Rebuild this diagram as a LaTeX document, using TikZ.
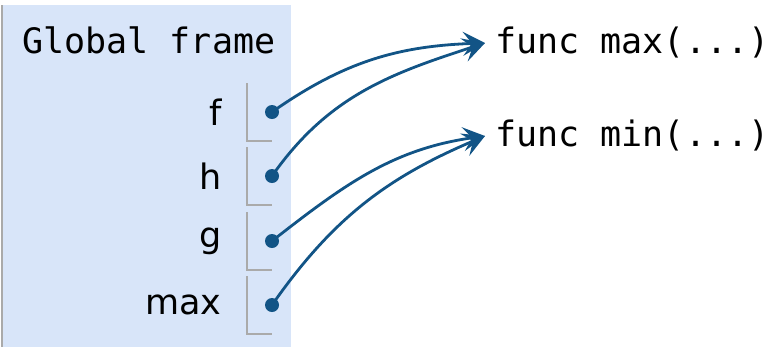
\documentclass[tikz,border=0pt]{standalone}
\usepackage{fontspec}
\setmainfont{DejaVu Sans}
\newfontfamily\codefont{DejaVu Sans Mono}
\usetikzlibrary{arrows.meta}

\definecolor{framebg}{RGB}{216,229,249}
\definecolor{ptrblue}{RGB}{18,84,134}
\definecolor{slotgray}{RGB}{170,170,170}

\tikzset{
  pointer/.style={draw=ptrblue, line width=1.4pt, -{Stealth[length=11pt,width=12pt,inset=4.5pt]}},
  dot/.style={circle, fill=ptrblue, inner sep=0pt, minimum size=7pt},
  varname/.style={anchor=east, inner sep=0pt, font=\fontsize{17.5}{20}\selectfont},
  code/.style={anchor=west, inner sep=0pt, font=\codefont\fontsize{17.5}{20}\selectfont},
  funcbox/.style={code, inner xsep=5pt},
  slot/.style={draw=slotgray, line width=1pt}
}

\begin{document}
\begin{tikzpicture}[x=0.5pt, y=-0.5pt]
  \useasboundingbox (0,0) rectangle (780,349);

  % Frame
  \fill[framebg] (2,5) rectangle (291,347);
  \draw[slot] (2,5) -- (2,347);
  \node[code] (title) at (22,40) {Global frame};

  % Variables and their slots
  \foreach \name/\y [count=\i] in {f/112, h/176, g/241, max/305} {
    \node[varname] (name\i) at (222,\y) {\name};
    \draw[slot] (247,\y-29) -- (247,\y+29) -- (272,\y+29);
    \node[dot] (dot\i) at (272,\y) {};
  }

  % Function objects
  \node[funcbox] (fmax) at (485,43) {func max(...)};
  \node[funcbox] (fmin) at (485,136) {func min(...)};

  % Pointers
  \draw[pointer] (dot1.center) to[out=35, in=182] (fmax.west);
  \draw[pointer] (dot2.center) to[out=55, in=198] (fmax.west);
  \draw[pointer] (dot3.center) to[out=38, in=188] (fmin.west);
  \draw[pointer] (dot4.center) to[out=55, in=203] (fmin.west);
\end{tikzpicture}
\end{document}
